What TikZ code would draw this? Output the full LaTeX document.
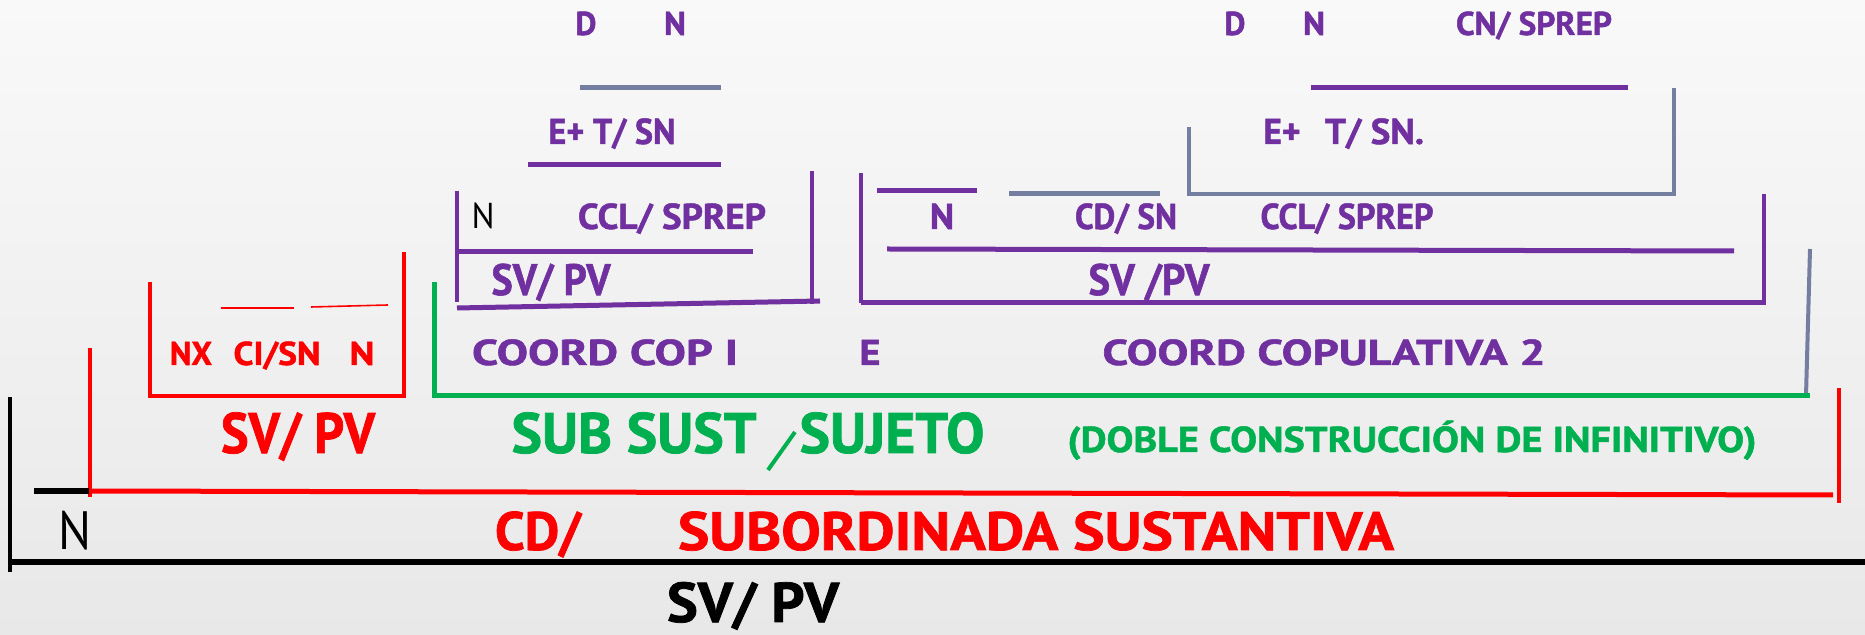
\documentclass[tikz,border=0pt]{standalone}
\usepackage{fontspec}
\usepackage{graphicx}
\setmainfont{PT Sans}[BoldFeatures={FakeBold=1.3}]
\definecolor{P}{RGB}{112,48,160}
\definecolor{G}{RGB}{115,126,161}
\definecolor{R}{RGB}{255,0,0}
\definecolor{Gr}{RGB}{0,176,80}
\newcommand\fw[2]{\resizebox{#1pt}{\height}{#2}}
\newcommand\fs[1]{\fontsize{#1}{#1}\selectfont}
\tikzset{
  lbl/.style={anchor=base, inner sep=0pt, font=\bfseries},
  reg/.style={anchor=base, inner sep=0pt},
  pl/.style={draw=P, line width=2.5pt},
  pv/.style={draw=P, line width=2pt},
  gl/.style={draw=G, line width=2.5pt},
  gv/.style={draw=G, line width=2pt},
  rl/.style={draw=R, line width=2pt},
  rt/.style={draw=R, line width=0.8pt},
  grl/.style={draw=Gr, line width=2.5pt},
  bl/.style={draw=black, line width=3pt},
  bv/.style={draw=black, line width=2pt},
}
\begin{document}
\begin{tikzpicture}[x=0.5pt,y=-0.5pt]
\useasboundingbox (0,0) rectangle (1865,635);
\shade[top color={rgb,255:red,249;green,249;blue,249}, bottom color={rgb,255:red,232;green,232;blue,232}] (0,0) rectangle (1865,635);
% ---- top level texts
\node[lbl,text=P] (d1) at (586,35) {\fs{16.5}\fw{10.5}{D}};
\node[lbl,text=P] (n1) at (675,35) {\fs{16.5}\fw{11}{N}};
\node[lbl,text=P] (d2) at (1235,35) {\fs{16.5}\fw{10.5}{D}};
\node[lbl,text=P] (n2) at (1314,35) {\fs{16.5}\fw{11}{N}};
\node[lbl,text=P] (cn) at (1534,35) {\fs{16.5}\fw{78}{CN/ SPREP}};
\node[lbl,text=P] (et1) at (612,144) {\fs{18}\fw{63.5}{E+ T/ SN}};
\node[lbl,text=P] (ep2) at (1282,144) {\fs{18}\fw{18.5}{E+}};
\node[lbl,text=P] (ts2) at (1374.5,144) {\fs{18}\fw{49.5}{T/ SN.}};
\node[reg] (nb1) at (483,229) {\fs{18}\fw{11.5}{N}};
\node[lbl,text=P] (ccl1) at (672,229) {\fs{18}\fw{94}{CCL/ SPREP}};
\node[lbl,text=P] (sv1) at (551,295) {\fs{22}\fw{59.5}{SV/ PV}};
\node[lbl,text=P] (np2) at (942,229) {\fs{18}\fw{12}{N}};
\node[lbl,text=P] (cdsn) at (1126,229) {\fs{18}\fw{51}{CD/ SN}};
\node[lbl,text=P] (ccl2) at (1347,229) {\fs{18}\fw{86.5}{CCL/ SPREP}};
\node[lbl,text=P] (sv2) at (1149,295) {\fs{22}\fw{60.5}{SV /PV}};
\node[lbl,text=R] (nx) at (191,365) {\fs{16.5}\fw{21}{NX}};
\node[lbl,text=R] (cisn) at (277,365) {\fs{16.5}\fw{43.5}{CI/SN}};
\node[lbl,text=R] (nr) at (362,365) {\fs{16.5}\fw{12.5}{N}};
\node[lbl,text=P] (cc1) at (605,365) {\fs{18}\fw{133}{COORD COP I}};
\node[lbl,text=P] (e) at (870,365) {\fs{18}\fw{10.5}{E}};
\node[lbl,text=P] (cc2) at (1324,365) {\fs{18}\fw{221.5}{COORD COPULATIVA 2}};
\node[lbl,text=R] (svr) at (298,453) {\fs{28.5}\fw{77}{SV/ PV}};
\node[lbl,text=Gr] (sub) at (634,453) {\fs{28.5}\fw{122.5}{SUB SUST}};
\node[lbl,text=Gr] (suj) at (892,453) {\fs{28.5}\fw{92.5}{SUJETO}};
\node[lbl,text=Gr] (doble) at (1412,452) {\fs{18}\fw{344.5}{(DOBLE CONSTRUCCIÓN DE INFINITIVO)}};
\node[reg] (nb2) at (75,550) {\fs{27}\fw{16.5}{N}};
\node[lbl,text=R] (cd) at (538,550) {\fs{27}\fw{43}{CD/}};
\node[lbl,text=R] (subord) at (1036,550) {\fs{27}\fw{358}{SUBORDINADA SUSTANTIVA}};
\node[lbl] (svb) at (753,622) {\fs{28}\fw{86}{SV/ PV}};
% ---- gray lines
\draw[gl] (580,88) -- (721,88);
\draw[gv] (1189,127) -- (1189,194) -- (1674,194) -- (1674,88);
\draw[gl] (1009,194) -- (1160,194);
\draw[gv] (1810,249) -- (1806,396);
% ---- purple lines
\draw[pl] (528,165) -- (721,165);
\draw[pl] (1311,88) -- (1628,88);
\draw[pv] (457,191) -- (457,302);
\draw[pl] (457,252) -- (753,252);
\draw[pl] (457,308) -- (820,301);
\draw[pv] (812,171) -- (812,304);
\draw[pv] (861,173) -- (861,303);
\draw[pl] (861,303) -- (1764,303);
\draw[pv] (1764,194) -- (1764,305);
\draw[pl] (877,191) -- (977,191);
\draw[pl] (887,249) -- (1734,251);
% ---- red lines
\draw[rl] (150,282) -- (150,396) -- (404,396) -- (404,252);
\draw[rt] (221,308) -- (294,308);
\draw[rt] (311,307) -- (388,305);
\draw[rl] (90,348) -- (90,497);
\draw[draw=R, line width=2.5pt] (90,491) -- (1833,495);
\draw[rl] (1839,388) -- (1839,503);
% ---- green lines
\draw[grl] (434,282) -- (434,396) -- (1810,396);
\draw[draw=Gr, line width=2pt] (768,470) -- (795,432);
% ---- black lines
\draw[bv] (10,397) -- (10,572);
\draw[bl] (10,562) -- (1865,562);
\draw[bl] (34,491) -- (89,491);
\end{tikzpicture}
\end{document}
